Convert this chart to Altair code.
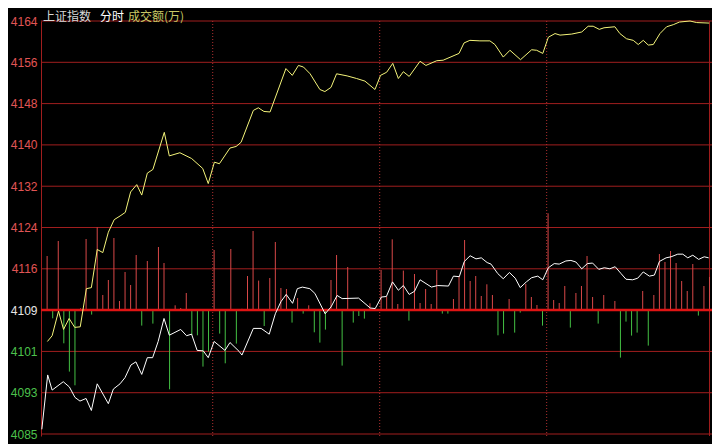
import altair as alt
import pandas as pd

# ---- axis ticks (price levels, labels shown truncated) ----
tick_values = [4085.3, 4093.2, 4101.1, 4109.0, 4116.9, 4124.8, 4132.7, 4140.6, 4148.5, 4156.4, 4164.3]
prev_close = [4109.0]
Y_DOMAIN = [4084.92, 4164.3]
X_DOMAIN = [-0.7, 240.4]          # minutes since 9:30
hour_marks = [61, 121, 181]        # dotted hour separators
last_minute = [239.5]              # right border / last tick

# ---- yellow line (minute, price) ----
yellow_min = [1.6, 3.3, 5.6, 7.4, 9.4, 11.4, 13.4, 15.6, 17.4, 19.5, 21.5, 23.5, 25.6, 27.7, 29.6,
              31.5, 33.7, 35.5, 37.5, 39.5, 43.6, 45.4, 49.2, 53.4, 57.4, 59.4, 61.6, 63.4, 67.2,
              69.4, 71.2, 75.6, 77.4, 79.4, 81.6, 87.3, 89.6, 91.8, 93.6, 96.0, 99.5, 101.3, 103.5,
              105.5, 109.3, 112.7, 115.7, 119.3, 121.3, 123.5, 125.7, 127.7, 129.5, 131.6, 135.5,
              137.6, 141.5, 143.8, 149.5, 151.3, 153.4, 157.0, 160.6, 162.4, 165.4, 167.8, 171.6,
              175.6, 177.4, 179.6, 181.6, 184.0, 185.8, 190.0, 193.6, 195.9, 197.7, 199.9, 201.6,
              205.5, 207.3, 209.7, 212.1, 213.9, 215.7, 217.5, 219.3, 221.7, 224.1, 226.5, 228.7,
              232.5, 234.9, 239.4]
yellow_val = [4103.0, 4104.1, 4108.8, 4105.3, 4107.4, 4105.7, 4105.8, 4113.1, 4113.3, 4120.6, 4120.0,
              4123.9, 4126.3, 4127.0, 4127.7, 4131.6, 4133.0, 4131.0, 4135.2, 4135.9, 4143.0, 4138.5,
              4139.1, 4138.0, 4136.1, 4133.2, 4137.3, 4137.0, 4140.0, 4140.3, 4141.1, 4147.2, 4147.7,
              4147.0, 4146.9, 4155.2, 4153.9, 4155.8, 4155.5, 4154.2, 4151.2, 4150.8, 4151.6, 4154.2,
              4153.8, 4153.3, 4152.8, 4151.2, 4153.9, 4154.5, 4156.2, 4153.3, 4154.6, 4153.7, 4156.6,
              4155.8, 4156.7, 4156.8, 4158.1, 4160.1, 4160.6, 4160.5, 4160.5, 4159.8, 4157.4, 4158.7,
              4156.9, 4158.8, 4158.7, 4158.1, 4161.2, 4161.9, 4161.6, 4161.8, 4162.2, 4163.3, 4163.3,
              4162.7, 4163.0, 4163.2, 4161.9, 4160.9, 4160.6, 4159.8, 4160.6, 4159.7, 4159.8, 4161.9,
              4163.2, 4163.6, 4164.1, 4164.3, 4164.0, 4163.9]

# ---- white line (minute, price) ----
white_min = [-0.4, 1.7, 3.3, 7.3, 9.5, 11.5, 13.3, 15.5, 17.4, 19.5, 23.5, 25.3, 27.7, 29.5, 31.6,
             33.4, 35.5, 37.5, 39.4, 41.4, 43.5, 45.4, 49.5, 51.6, 53.4, 55.4, 57.6, 59.4, 61.5,
             65.4, 67.2, 70.5, 71.5, 75.6, 78.4, 81.3, 83.5, 85.5, 87.4, 89.7, 91.4, 93.2, 95.9,
             97.7, 101.4, 103.5, 105.7, 107.5, 113.4, 117.6, 119.4, 121.6, 123.4, 125.6, 127.7,
             129.5, 131.6, 133.5, 135.5, 139.6, 141.8, 145.7, 147.5, 149.6, 151.4, 153.5, 155.6,
             157.5, 159.6, 161.0, 163.4, 165.4, 167.6, 169.7, 171.5, 173.7, 175.6, 177.8, 179.6,
             181.6, 183.7, 185.5, 187.9, 189.7, 191.5, 193.6, 195.6, 197.5, 199.7, 201.7, 203.7,
             205.6, 207.7, 209.5, 211.9, 213.7, 215.7, 217.9, 219.7, 221.5, 223.9, 225.7, 228.1,
             229.9, 231.7, 233.5, 235.6, 237.6, 239.2]
white_val = [4086.2, 4096.6, 4093.7, 4095.3, 4094.3, 4092.3, 4091.6, 4092.1, 4089.8, 4094.9, 4091.1,
             4093.9, 4094.9, 4096.1, 4098.5, 4099.1, 4096.7, 4099.9, 4099.9, 4103.0, 4107.4, 4104.2,
             4105.3, 4104.1, 4104.4, 4101.3, 4101.2, 4099.9, 4103.0, 4101.3, 4102.8, 4101.1, 4100.4,
             4105.5, 4105.5, 4104.4, 4108.3, 4110.6, 4112.0, 4110.3, 4113.1, 4113.4, 4113.1, 4112.2,
             4108.3, 4109.6, 4111.8, 4111.2, 4111.3, 4109.4, 4109.3, 4111.5, 4111.6, 4114.4, 4112.8,
             4113.7, 4112.0, 4112.6, 4114.8, 4113.4, 4113.7, 4113.6, 4115.5, 4115.4, 4118.3, 4119.4,
             4118.8, 4119.0, 4118.1, 4117.8, 4116.0, 4115.0, 4116.2, 4115.1, 4113.3, 4114.4, 4115.2,
             4115.5, 4114.8, 4117.1, 4117.9, 4117.8, 4118.4, 4118.5, 4118.2, 4116.9, 4117.9, 4118.0,
             4116.8, 4117.1, 4116.9, 4117.3, 4116.0, 4114.9, 4114.8, 4115.1, 4116.3, 4115.5, 4115.7,
             4118.3, 4119.0, 4119.2, 4119.7, 4119.7, 4119.0, 4119.5, 4118.7, 4119.2, 4119.0]

# ---- strength bars: 2-minute slot and signed strength ----
bar_slot = list(range(0, 120))
bar_val = [54.3, -8, 69.3, -33, -61.3, -75, 2, 71.3, -4.3, 83,
           15.3, 30.3, 72.3, 9.3, 38.3, 25.3, 55.3, -15.3, 49.3, -13.3,
           63.3, 47.3, -79, 5, 2.3, 17.3, -24.7, -25, -56.3, -41.3,
           60.3, -23.3, -53, 61.3, -33.3, 1.5, 34.3, 79.3, 29.7, -15.7,
           32.3, 68.3, 22.3, 21.3, -12.3, 12.3, -3.3, 5, -22, -32.3,
           -19.3, 30.3, 55.3, -55.3, 43.3, -12.3, -5.7, -8.3, 7, 0,
           40.3, 13.7, 71, 6.3, 39.7, -10.3, 36.3, 7.3, 21.3, 6.3,
           40.3, -3.3, -3.3, 11.3, 34.3, 70.3, 29.3, 34.3, 14.3, 26,
           15.3, -25, -23.3, 11.3, -22.3, -2.3, 26.3, 13.3, 5.3, -15.3,
           97, 10.3, 7.3, 24.3, -17.3, 17.3, 24.3, 54.3, 13.3, -13.3,
           15.3, 1.3, 9.3, -47.3, -11.3, -25.3, -22.3, 19.3, -35.3, 15.3,
           56.3, 48.3, 59.3, 47.3, 29.3, 19.3, 46.3, -5.3, 24.3, 33.3]
BAR_DOMAIN = [-125.7, 289.3]

W, H = 671, 415
GRID = "#a11e1e"
FONT = "Liberation Sans"
CJK = "Noto Sans CJK SC"

x_scale = alt.Scale(domain=X_DOMAIN, nice=False, zero=False)
y_scale = alt.Scale(domain=Y_DOMAIN, nice=False, zero=False)
b_scale = alt.Scale(domain=BAR_DOMAIN, nice=False, zero=False)

ticks_df = pd.DataFrame({"v": tick_values})
yellow_df = pd.DataFrame({"m": yellow_min, "v": yellow_val})
white_df = pd.DataFrame({"m": white_min, "v": white_val})
bars_df = pd.DataFrame({"slot": bar_slot, "s": bar_val})
bars_df = bars_df[bars_df["s"] != 0].copy()
bars_df["m"] = bars_df["slot"] * 2 + 1.5
bars_df["dir"] = ["up" if s > 0 else "down" for s in bars_df["s"]]

label_color = {
    "condition": [
        {"test": "datum.value > 4110", "value": "#e05555"},
        {"test": "datum.value < 4108", "value": "#4cc24c"},
    ],
    "value": "#e6e6e6",
}

grid = alt.Chart(ticks_df).mark_rule(color=GRID, strokeWidth=1).encode(
    y=alt.Y("v:Q", scale=y_scale, title=None,
            axis=alt.Axis(values=tick_values, labelExpr="format(floor(datum.value), 'd')",
                          ticks=False, grid=False, domain=True, domainColor=GRID,
                          domainWidth=1, labelFont=FONT, labelFontSize=12,
                          labelPadding=4, labelColor=label_color, labelOverlap=False))
)

hours = alt.Chart(pd.DataFrame({"m": hour_marks})).mark_rule(
    color="#b03030", strokeWidth=1, strokeDash=[1, 2]).encode(
    x=alt.X("m:Q", scale=x_scale, axis=None))

right_border = alt.Chart(pd.DataFrame({"m": last_minute})).mark_rule(
    color=GRID, strokeWidth=1).encode(x=alt.X("m:Q", scale=x_scale, axis=None))

bars = alt.Chart(bars_df).mark_rule(strokeWidth=1).encode(
    x=alt.X("m:Q", scale=x_scale, axis=None),
    y=alt.Y("s:Q", scale=b_scale, axis=None),
    y2=alt.datum(0),
    color=alt.Color("dir:N", scale=alt.Scale(domain=["up", "down"], range=["#d84848", "#44c044"]),
                    legend=None),
)

baseline = alt.Chart(pd.DataFrame({"v": prev_close})).mark_rule(
    color="#e01414", strokeWidth=2.5).encode(y=alt.Y("v:Q", scale=y_scale, axis=None))

white = alt.Chart(white_df).mark_line(color="#ffffff", strokeWidth=1).encode(
    x=alt.X("m:Q", scale=x_scale, axis=None),
    y=alt.Y("v:Q", scale=y_scale, axis=None))

yellow = alt.Chart(yellow_df).mark_line(color="#f4f47a", strokeWidth=1).encode(
    x=alt.X("m:Q", scale=x_scale, axis=None),
    y=alt.Y("v:Q", scale=y_scale, axis=None))

t1 = alt.Chart(pd.DataFrame({"t": ["上证指数"]})).mark_text(
    align="left", baseline="middle", font=CJK, fontSize=12, color="#d8d8d8").encode(
    text="t:N", x=alt.value(2), y=alt.value(-4))
t2 = alt.Chart(pd.DataFrame({"t": ["分时"]})).mark_text(
    align="left", baseline="middle", font=CJK, fontSize=12, color="#ffffff").encode(
    text="t:N", x=alt.value(59), y=alt.value(-4))
t3 = alt.Chart(pd.DataFrame({"t": ["成交额(万)"]})).mark_text(
    align="left", baseline="middle", font=CJK, fontSize=12, color="#c8c864").encode(
    text="t:N", x=alt.value(87), y=alt.value(-4))

chart = alt.layer(grid, hours, right_border, bars, baseline, white, yellow, t1, t2, t3).resolve_scale(
    y="independent"
).properties(
    width=W, height=H,
    padding={"left": 33, "top": 13, "right": 0, "bottom": 8},
    autosize=alt.AutoSizeParams(type="none"),
    background="#000000",
).configure_view(stroke=None)

chart.save("out.html", embed_options={"renderer": "svg", "actions": False})
